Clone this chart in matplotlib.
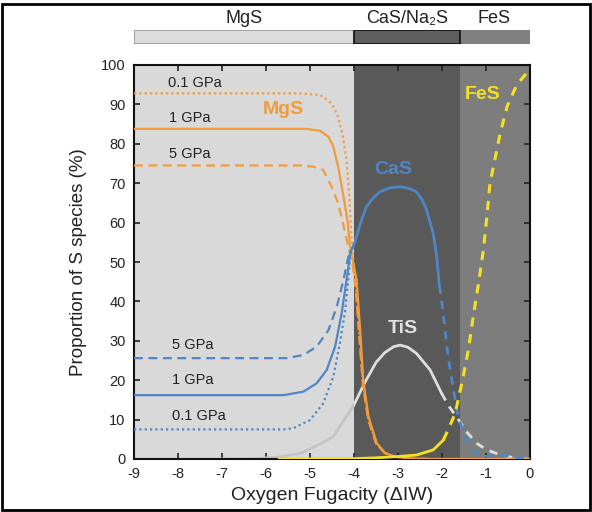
import matplotlib
matplotlib.use("Agg")
import matplotlib.pyplot as plt
from matplotlib.patches import Rectangle

plt.rcParams['font.family'] = ['Liberation Sans', 'DejaVu Sans']
plt.rcParams['axes.unicode_minus'] = False

# ---------------- data ----------------
xticks = [-9, -8, -7, -6, -5, -4, -3, -2, -1, 0]
yticks = [0, 10, 20, 30, 40, 50, 60, 70, 80, 90, 100]

# regions (ΔIW)
region_edges = [-9, -4, -1.6, 0]
region_names = ["MgS", "CaS/Na\u2082S", "FeS"]

# MgS
mgs01_x = [-9, -5.3, -4.77, -4.51, -4.36, -4.25, -4.17, -4.11, -4.07, -4.03, -3.96, -3.88, -3.8, -3.68, -3.5, -3.3, -3.08, -2.7, -2.3, 0]
mgs01_y = [92.8, 92.8, 92.4, 90.3, 86.9, 81.8, 75.9, 67.4, 59, 52, 44, 32, 20, 10.5, 4, 1.5, 0.6, 0.1, 0, 0]
mgs1_x = [-9, -5.1, -4.77, -4.58, -4.47, -4.36, -4.25, -4.15, -4.09, -4.02, -3.94, -3.86, -3.79, -3.67, -3.48, -3.3, -3.1, -2.73, -2.3, 0]
mgs1_y = [83.8, 83.8, 83.3, 81.8, 79.3, 74.2, 67.4, 60.7, 53.9, 50, 45.4, 32.7, 20, 10.7, 4, 1.6, 0.7, 0.1, 0, 0]
mgs5_x = [-9, -5.2, -4.93, -4.7, -4.51, -4.36, -4.25, -4.13, -4.04, -3.96, -3.88, -3.8, -3.68, -3.5, -3.3, -3.1, -2.73, -2.3, 0]
mgs5_y = [74.5, 74.5, 74.2, 73.4, 69.1, 64.9, 59.8, 53.9, 50, 43, 31, 19, 10, 4, 1.5, 0.6, 0.1, 0, 0]

# CaS (pressure branches before convergence)
cas5_x = [-9, -5.53, -5.15, -4.85, -4.58, -4.39, -4.24, -4.13, -4.08]
cas5_y = [25.6, 25.6, 26.4, 28.5, 32.7, 38.7, 45.4, 51.3, 52.5]
cas1_x = [-9, -5.6, -5.15, -4.85, -4.62, -4.43, -4.28, -4.17, -4.08]
cas1_y = [16.2, 16.2, 17.1, 19.2, 22.6, 28.5, 37, 45.4, 52.5]
cas01_x = [-9, -5.6, -5.38, -5.0, -4.7, -4.47, -4.32, -4.2, -4.13, -4.08]
cas01_y = [7.5, 7.5, 7.8, 9.9, 14.1, 20.9, 29.4, 37.8, 45.4, 52.5]
cas_x = [-4.08, -3.98, -3.85, -3.72, -3.56, -3.41, -3.2, -2.95, -2.75, -2.58, -2.45, -2.35, -2.2, -2.12, -2.06]
cas_y = [52.5, 55, 60, 64, 66.3, 67.8, 68.8, 69.1, 68.7, 67.8, 65.8, 63.2, 57.3, 51.3, 44]
casd_x = [-2.06, -2.01, -1.93, -1.86, -1.74, -1.63, -1.48, -1.29, -1.1, -0.9, -0.7, -0.5, -0.3, 0]
casd_y = [44, 40.4, 32.7, 26, 17.5, 10.7, 5.7, 2.3, 0.6, 0.8, 1.0, 0.8, 0.4, 0]

# TiS
tis_x = [-7, -6.2, -5.7, -5.23, -4.77, -4.47, -4.25, -4.02, -3.75, -3.5, -3.3, -3.1, -2.95, -2.78, -2.58, -2.27, -2.01]
tis_y = [0, 0.1, 0.5, 1.4, 3.8, 5.7, 9.5, 13.3, 19.5, 24.5, 27, 28.5, 28.9, 28.4, 26.8, 22.6, 16.7]
tisd_x = [-2.01, -1.85, -1.67, -1.45, -1.21, -1.0, -0.76, -0.5, -0.23, 0]
tisd_y = [16.7, 13.5, 10.7, 7, 4, 2.4, 1.4, 0.6, 0.1, 0]

# FeS
fes_x = [-5.7, -5, -4, -3.5, -3.03, -2.58, -2.2, -1.97]
fes_y = [0, 0.05, 0.1, 0.3, 0.6, 1.0, 2.3, 4.8]
fesd_x = [-1.97, -1.86, -1.7, -1.55, -1.4, -1.29, -1.17, -1.06, -0.98, -0.91, -0.8, -0.68, -0.52, -0.3, -0.05]
fesd_y = [4.8, 7.4, 11.6, 19.2, 27.7, 36.1, 44.6, 53, 61.5, 70, 75.9, 82.5, 89.5, 95, 98.3]

# ---------------- style ----------------
ORANGE = "#f29b3c"
BLUE = "#4f86c6"
YELLOW = "#f5e022"
TIS_LIGHT = "#c4c4c4"
TIS_DARK = "#dedede"
BG = ["#d9d9d9", "#595959", "#7d7d7d"]
BAR = ["#dcdcdc", "#5e5e5e", "#808080"]
BAR_EDGE = ["#9a9a9a", "#111111", "none"]

fig = plt.figure(figsize=(5.92, 5.12), dpi=100)
ax = fig.add_axes([134/592, 1-459/512, 396/592, 394/512])

for i in range(3):
    ax.axvspan(region_edges[i], region_edges[i+1], color=BG[i], zorder=0, lw=0)

lw = 1.6
ax.plot(mgs01_x, mgs01_y, color=ORANGE, lw=lw, ls=(0, (1, 1.4)), zorder=3)
ax.plot(mgs1_x, mgs1_y, color=ORANGE, lw=lw, zorder=3)
ax.plot(mgs5_x, mgs5_y, color=ORANGE, lw=lw, ls=(0, (4, 2.5)), zorder=3)

ax.plot(cas01_x, cas01_y, color=BLUE, lw=lw, ls=(0, (1, 1.4)), zorder=3)
ax.plot(cas1_x, cas1_y, color=BLUE, lw=lw, zorder=3)
ax.plot(cas5_x, cas5_y, color=BLUE, lw=lw, ls=(0, (4, 2.5)), zorder=3)
ax.plot(cas_x, cas_y, color=BLUE, lw=2.0, zorder=3)
ax.plot(casd_x, casd_y, color=BLUE, lw=2.0, ls=(0, (3, 2.5)), zorder=3)

# TiS: slightly darker where it crosses the light region
light_clip = Rectangle((region_edges[0], 0), region_edges[1] - region_edges[0], 100,
                       transform=ax.transData)
dark_clip = Rectangle((region_edges[1], 0), region_edges[3] - region_edges[1], 100,
                      transform=ax.transData)
for col, clip in [(TIS_LIGHT, light_clip), (TIS_DARK, dark_clip)]:
    l1, = ax.plot(tis_x, tis_y, color=col, lw=2.0, zorder=2)
    l2, = ax.plot(tisd_x, tisd_y, color=col, lw=2.0, ls=(0, (3, 2.5)), zorder=2)
    l1.set_clip_path(clip)
    l2.set_clip_path(clip)

ax.plot(fes_x, fes_y, color=YELLOW, lw=2.0, zorder=4)
ax.plot(fesd_x, fesd_y, color=YELLOW, lw=2.2, ls=(0, (3, 2.5)), zorder=4)

ax.set_xlim(-9, 0)
ax.set_ylim(0, 100)
ax.set_xticks(xticks)
ax.set_yticks(yticks)
ax.tick_params(direction='in', top=True, right=True, length=4, width=1.2,
               labelsize=10.5, colors='#222222', pad=6)
for s in ax.spines.values():
    s.set_linewidth(1.5)
    s.set_color('#111111')

ax.set_xlabel("Oxygen Fugacity (\u0394IW)", fontsize=14, color='#222222', labelpad=4)
ax.set_ylabel("Proportion of S species (%)", fontsize=13.5, color='#222222', labelpad=10)

# annotations
tc = '#222222'
ax.text(-8.23, 95.4, "0.1 GPa", fontsize=10.5, color=tc, va='center', ha='left')
ax.text(-8.2, 86.5, "1 GPa", fontsize=10.5, color=tc, va='center', ha='left')
ax.text(-8.2, 77.4, "5 GPa", fontsize=10.5, color=tc, va='center', ha='left')
ax.text(-8.14, 28.9, "5 GPa", fontsize=10.5, color=tc, va='center', ha='left')
ax.text(-8.14, 20.0, "1 GPa", fontsize=10.5, color=tc, va='center', ha='left')
ax.text(-8.14, 10.9, "0.1 GPa", fontsize=10.5, color=tc, va='center', ha='left')
ax.text(-5.61, 88.6, "MgS", fontsize=14, color=ORANGE, weight='bold', ha='center', va='center')
ax.text(-3.11, 73.4, "CaS", fontsize=14, color=BLUE, weight='bold', ha='center', va='center')
ax.text(-2.89, 33.2, "TiS", fontsize=14, color="#e2e2e2", weight='bold', ha='center', va='center')
ax.text(-1.07, 92.4, "FeS", fontsize=14, color=YELLOW, weight='bold', ha='center', va='center')

# top bar
bax = fig.add_axes([134/592, 1-44/512, 396/592, 14/512])
bax.set_xlim(-9, 0)
bax.set_ylim(0, 1)
bax.axis('off')
for i in range(3):
    x0, x1 = region_edges[i], region_edges[i+1]
    bax.add_patch(Rectangle((x0, 0), x1 - x0, 1, facecolor=BAR[i],
                            edgecolor=BAR_EDGE[i], lw=1.2, zorder=2 if i == 1 else 1))
label_x = [-6.5, -2.8, -0.82]
for name, lx in zip(region_names, label_x):
    bax.text(lx, 1.85, name, fontsize=13, color='#222222', ha='center', va='center',
             clip_on=False)

# figure frame
fig.patches.append(Rectangle((0.004, 0.004), 0.992, 0.988, transform=fig.transFigure,
                             fill=False, edgecolor='black', lw=2.0))

fig.savefig("out.png", dpi=100)
